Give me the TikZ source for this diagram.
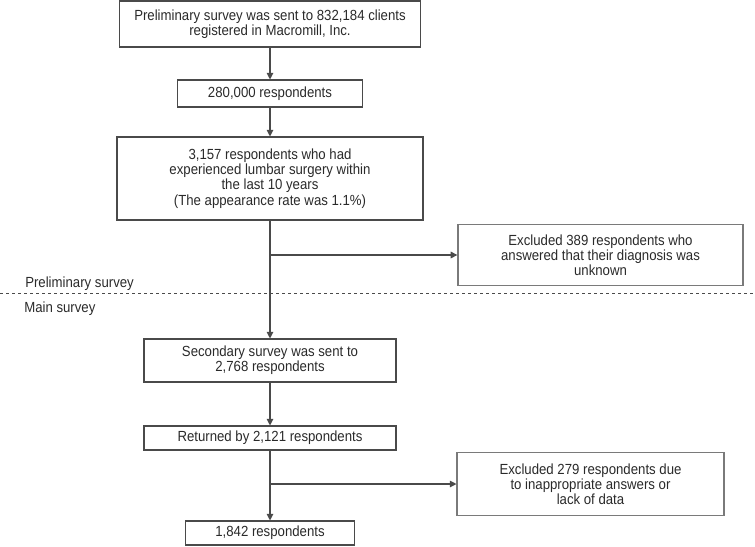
\documentclass[tikz,border=0pt]{standalone}
\usepackage{fontspec}
\setmainfont{Liberation Sans}[FakeStretch=0.9]
\usetikzlibrary{arrows.meta}
\definecolor{txt}{HTML}{2A2A2A}
\definecolor{ln}{HTML}{4A4A4A}
\definecolor{ln2}{HTML}{7A7A7A}
\begin{document}
\begin{tikzpicture}[x=0.75pt,y=-0.75pt,
  box/.style={draw=ln,line width=0.8pt,text=txt,align=center,font=\fontsize{11}{11.4}\selectfont,inner sep=0pt},
  arr/.style={draw=ln,line width=0.8pt,-{Triangle[length=5pt,width=5pt]}},
  lbl/.style={text=txt,font=\fontsize{11}{11.4}\selectfont,anchor=base west,inner sep=0pt}]
\useasboundingbox (0,0) rectangle (755,546);
\node[box,minimum width=225.75pt,minimum height=34.5pt] (b1) at (270,24) {Preliminary survey was sent to 832,184 clients\\registered in Macromill, Inc.};
\node[box,minimum width=138.75pt,minimum height=20.25pt] (b2) at (270,93.5) {280,000 respondents};
\node[box,minimum width=229.5pt,minimum height=62.25pt] (b3) at (270,178.5) {3,157 respondents who had\\experienced lumbar surgery within\\the last 10 years\\(The appearance rate was 1.1\%)};
\node[box,draw=ln2,line width=1pt,minimum width=213.75pt,minimum height=45.75pt] (b4) at (600.5,255) {Excluded 389 respondents who\\answered that their diagnosis was\\unknown};
\node[box,minimum width=189pt,minimum height=32.25pt] (b5) at (270,360.5) {Secondary survey was sent to\\2,768 respondents};
\node[box,minimum width=189pt,minimum height=18pt] (b6) at (270,438) {Returned by 2,121 respondents};
\node[box,draw=ln2,minimum width=200.25pt,minimum height=47.25pt] (b7) at (590.5,484) {Excluded 279 respondents due\\to inappropriate answers or\\lack of data};
\node[box,minimum width=126.75pt,minimum height=18pt] (b8) at (270,533) {1,842 respondents};
\node[lbl] (l1) at (25,287) {Preliminary survey};
\node[lbl] (l2) at (24,312) {Main survey};
\coordinate (dl) at (0,293);
\coordinate (dr) at (755,293);
\draw[draw=ln,line width=0.7pt,dash pattern=on 2.5pt off 2pt] (dl) -- (dr);
\draw[arr] (b1) -- (b2);
\draw[arr] (b2) -- (b3);
\draw[arr] (b3) -- (b5);
\draw[arr] (b5) -- (b6);
\draw[arr] (b6) -- (b8);
\coordinate (j1) at (270,255);
\coordinate (j2) at (270,484);
\draw[arr] (j1) -- (b4.west);
\draw[arr] (j2) -- (b7.west);
\end{tikzpicture}
\end{document}
